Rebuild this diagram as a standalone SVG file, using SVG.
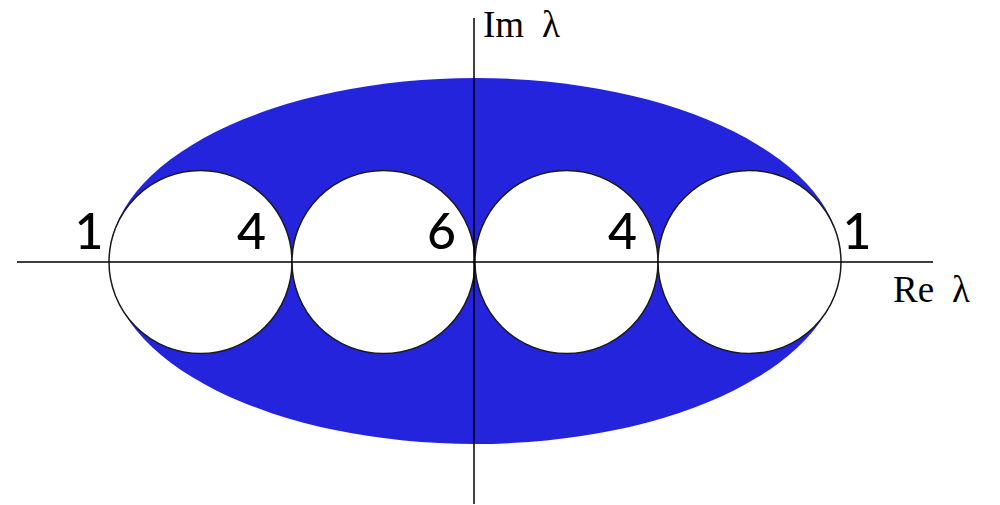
<svg xmlns="http://www.w3.org/2000/svg" width="1000" height="505" viewBox="0 0 1000 505">
<style>
.hole{fill:#ffffff;stroke:#1a1a1a;stroke-width:1.5}
.axis{stroke:#000;stroke-width:1.5;fill:none}
.num{font-family:Lato,"Liberation Sans",sans-serif;font-size:50px;font-weight:500;fill:#000}
.lab{font-family:"Liberation Serif",serif;font-size:37px;fill:#000}
</style>
<rect width="1000" height="505" fill="#fff"/>
<g id="region">
<ellipse cx="475" cy="261" rx="366" ry="183" fill="#2424dc"/>
</g>
<g id="holes">
<circle id="c1" class="hole" cx="200.5" cy="262" r="91.5"/>
<circle id="c2" class="hole" cx="383.5" cy="262" r="91.5"/>
<circle id="c3" class="hole" cx="566.5" cy="262" r="91.5"/>
<circle id="c4" class="hole" cx="749.5" cy="262" r="91.5"/>
</g>
<g id="axes">
<line class="axis" x1="17" y1="262" x2="933" y2="262"/>
<line class="axis" x1="474" y1="18" x2="474" y2="504"/>
</g>
<g id="labels">
<text class="num" x="89" y="249" text-anchor="middle">1</text>
<text class="num" x="266" y="249" text-anchor="end">4</text>
<text class="num" x="456" y="249" text-anchor="end">6</text>
<text class="num" x="637" y="249" text-anchor="end">4</text>
<text class="num" x="857" y="249" text-anchor="middle">1</text>
<text class="lab" y="37"><tspan x="483">Im</tspan><tspan x="542">λ</tspan></text>
<text class="lab" y="302"><tspan x="893">Re</tspan><tspan x="952">λ</tspan></text>
</g>
</svg>
